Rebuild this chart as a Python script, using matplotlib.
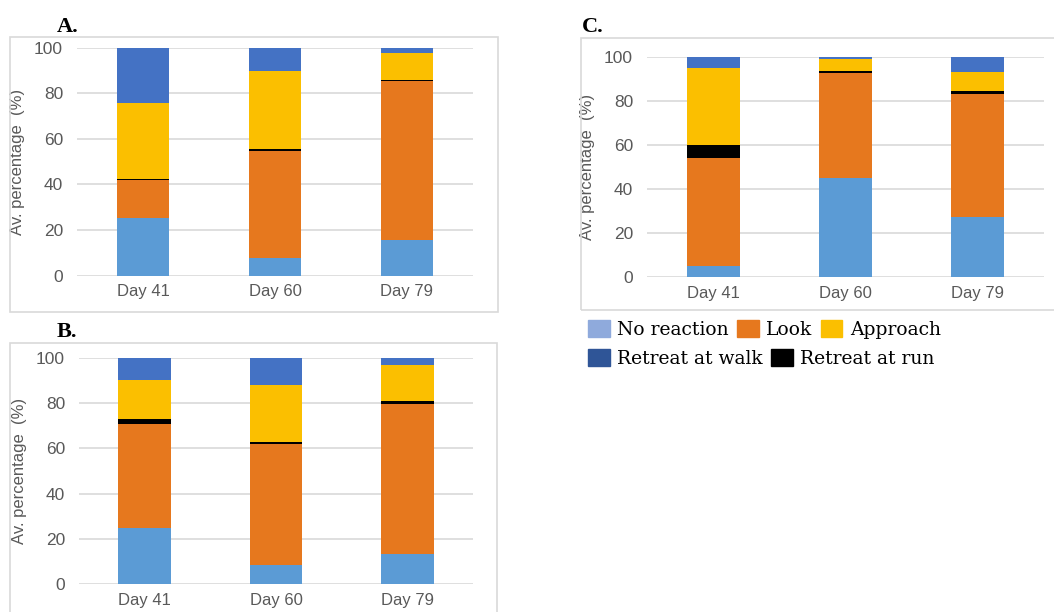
import matplotlib
matplotlib.use("Agg")
import matplotlib.pyplot as plt
from matplotlib.patches import Patch, Rectangle

days = ["Day 41", "Day 60", "Day 79"]
categories = ["No reaction", "Look", "Retreat at run", "Approach", "Retreat at walk"]

# panel A
a_no_reaction = [25.5, 7.9, 15.8]
a_look = [16.3, 46.9, 69.5]
a_run = [0.6, 0.8, 0.6]
a_approach = [33.5, 34.2, 11.7]
a_walk = [24.1, 10.2, 2.4]

# panel B
b_no_reaction = [24.7, 8.5, 13.2]
b_look = [46.0, 53.3, 66.2]
b_run = [2.1, 1.1, 1.5]
b_approach = [17.3, 25.0, 16.0]
b_walk = [9.9, 12.1, 3.1]

# panel C
c_no_reaction = [5.3, 45.0, 27.3]
c_look = [48.8, 47.7, 55.9]
c_run = [5.9, 0.9, 1.5]
c_approach = [35.2, 5.6, 8.8]
c_walk = [4.8, 0.8, 6.5]

yticks = [0, 20, 40, 60, 80, 100]

bar_colors = ["#5B9BD5", "#E6781E", "#000000", "#FBBF00", "#4472C4"]
legend_colors = {"No reaction": "#8FAADC", "Look": "#E6781E", "Approach": "#FBBF00",
                 "Retreat at walk": "#2F5597", "Retreat at run": "#000000"}

W, H = 1054, 612
fig = plt.figure(figsize=(W / 100, H / 100), dpi=100)


def fx(px):
    return px / W


def fy(py):
    return 1 - py / H


def panel_box(x0, y0, x1, y1):
    fig.patches.append(Rectangle((fx(x0), fy(y1)), fx(x1 - x0), (y1 - y0) / H,
                                 transform=fig.transFigure, fill=False,
                                 edgecolor="#D9D9D9", linewidth=1.2, zorder=0))


def draw_panel(rect, series, letter, letter_xy):
    ax = fig.add_axes(rect)
    x = range(len(days))
    bottom = [0] * len(days)
    for vals, col in zip(series, bar_colors):
        ax.bar(x, vals, bottom=bottom, width=0.4, color=col, linewidth=0, zorder=3)
        bottom = [b + v for b, v in zip(bottom, vals)]
    ax.set_xlim(-0.5, 2.5)
    ax.set_ylim(0, 100)
    ax.set_yticks(yticks)
    ax.set_xticks(list(x))
    ax.set_xticklabels(days)
    ax.yaxis.grid(True, color="#D9D9D9", linewidth=1.2, zorder=0)
    ax.set_axisbelow(True)
    for s in ax.spines.values():
        s.set_visible(False)
    ax.tick_params(axis="y", length=0, pad=10, labelsize=12.5, labelcolor="#595959")
    ax.tick_params(axis="x", length=0, pad=6, labelsize=12, labelcolor="#595959")
    ax.set_ylabel("Av. percentage  (%)", fontsize=12, color="#595959")
    ax.yaxis.set_label_coords(-0.131, 0.5)
    fig.text(fx(letter_xy[0]), fy(letter_xy[1]), letter, fontsize=16, fontweight="bold",
             family="Liberation Serif", ha="left", va="baseline")
    return ax


plt.rcParams["font.family"] = ["Liberation Sans", "DejaVu Sans"]

panel_box(10, 37, 498, 312)
panel_box(10, 343, 497, 640)
panel_box(581, 38, 1070, 310)

draw_panel([fx(77), fy(275.7), fx(396), 228 / H],
           [a_no_reaction, a_look, a_run, a_approach, a_walk], "A.", (57, 32))
draw_panel([fx(79), fy(584.3), fx(394), 226.6 / H],
           [b_no_reaction, b_look, b_run, b_approach, b_walk], "B.", (57, 337))
draw_panel([fx(647), fy(277.3), fx(397), 220 / H],
           [c_no_reaction, c_look, c_run, c_approach, c_walk], "C.", (582, 32))

row1 = ["No reaction", "Look", "Approach"]
row2 = ["Retreat at walk", "Retreat at run"]
leg_kw = dict(loc="upper left", frameon=False, handlelength=1.15, handleheight=1.0,
              handletextpad=0.4, columnspacing=0.45, borderpad=0, borderaxespad=0,
              prop={"family": "DejaVu Serif", "size": 13.5})
fig.legend([Patch(color=legend_colors[c]) for c in row1], row1, ncol=3,
           bbox_to_anchor=(fx(588), fy(320)), **leg_kw)
fig.legend([Patch(color=legend_colors[c]) for c in row2], row2, ncol=2,
           bbox_to_anchor=(fx(588), fy(349)), **leg_kw)

fig.savefig("out.png", dpi=100)
